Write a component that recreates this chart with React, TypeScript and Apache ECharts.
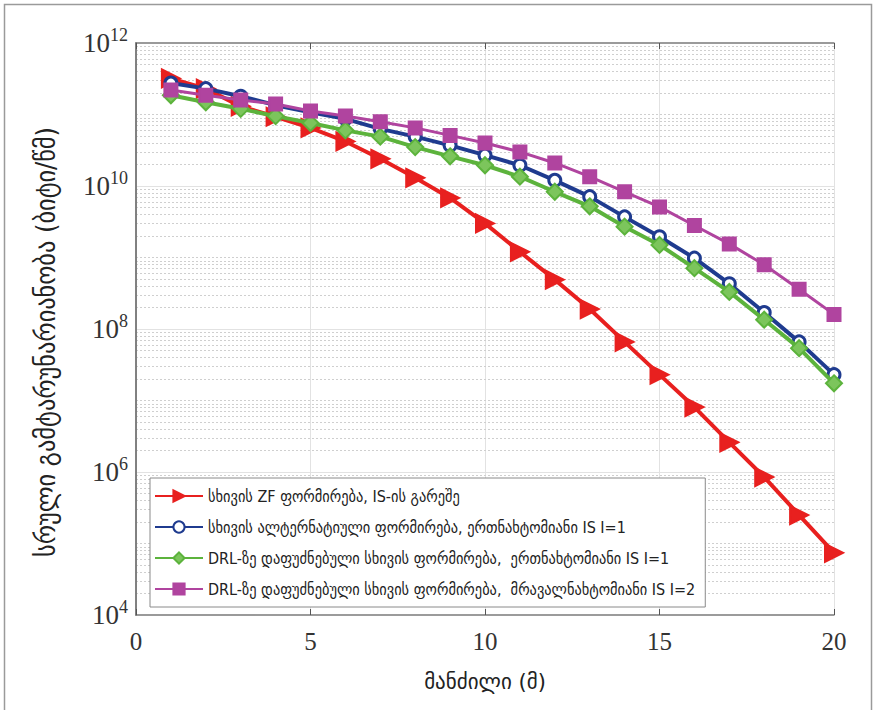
import React, { useEffect, useRef } from "react";
import * as echarts from "echarts";

const distances = [1, 2, 3, 4, 5, 6, 7, 8, 9, 10, 11, 12, 13, 14, 15, 16, 17, 18, 19, 20];

const zfNoIS = [3.2e11, 2.3e11, 1.3e11, 9.3e10, 6.5e10, 4.2e10, 2.4e10, 1.3e10, 6.8e9, 3.0e9, 1.2e9, 4.9e8, 1.9e8, 6.6e7, 2.3e7, 8.1e6, 2.6e6, 8.5e5, 2.5e5, 7.4e4];
const altSingleHop = [2.75e11, 2.3e11, 1.8e11, 1.35e11, 1.07e11, 8.7e10, 6.3e10, 4.9e10, 3.7e10, 2.7e10, 1.95e10, 1.2e10, 7.1e9, 3.7e9, 1.95e9, 9.8e8, 4.3e8, 1.7e8, 6.6e7, 2.3e7];
const drlSingleHop = [1.86e11, 1.48e11, 1.2e11, 9.5e10, 7.6e10, 6.0e10, 4.9e10, 3.5e10, 2.6e10, 1.95e10, 1.35e10, 8.3e9, 5.2e9, 2.7e9, 1.5e9, 7.1e8, 3.3e8, 1.35e8, 5.4e7, 1.74e7];
const drlMultiHop = [2.2e11, 1.86e11, 1.6e11, 1.4e11, 1.12e11, 9.5e10, 7.9e10, 6.5e10, 5.1e10, 4.0e10, 3.0e10, 2.1e10, 1.35e10, 8.3e9, 5.1e9, 2.8e9, 1.55e9, 7.9e8, 3.6e8, 1.6e8];

const seriesNames = [
  "სხივის ZF ფორმირება, IS-ის გარეშე",
  "სხივის ალტერნატიული ფორმირება, ერთნახტომიანი IS I=1",
  "DRL-ზე დაფუძნებული სხივის ფორმირება,  ერთნახტომიანი IS I=1",
  "DRL-ზე დაფუძნებული სხივის ფორმირება,  მრავალნახტომიანი IS I=2",
];

const xAxisName = "მანძილი (მ)";
const yAxisName = "სრული გამტარუნარიანობა (ბიტი/წმ)";

const yMin = 1e4;
const yMax = 1e12;
const yLabelExponents = [4, 6, 8, 10, 12];

// minor grid lines of the log axis: m * 10^k, plus the unlabelled decades
const minorGrid: number[] = [];
for (let k = 4; k < 12; k++) {
  for (let m = 2; m <= 9; m++) minorGrid.push(m * Math.pow(10, k));
}
for (const k of [5, 7, 9, 11]) minorGrid.push(Math.pow(10, k));
const majorGrid = [6, 8, 10].map((k) => Math.pow(10, k));

const serifFont = "'Liberation Serif', 'DejaVu Serif', serif";
const sansFont = "'DejaVu Sans Condensed', 'DejaVu Sans', 'Noto Sans', sans-serif";
const nameFont = "'DejaVu Sans', 'Noto Sans', sans-serif";

export default function App() {
  const ref = useRef<HTMLDivElement>(null);
  useEffect(() => {
    if (!ref.current) return;
    const chart = echarts.init(ref.current, null, { renderer: "svg" });
    const mk = (arr: number[]) => distances.map((d, i) => [d, arr[i]]);
    const lineSeries = (name: string, arr: number[], color: string, symbol: string, size: number, extra: any) => ({
      name,
      type: "line",
      data: mk(arr),
      symbol,
      symbolSize: size,
      lineStyle: { color, width: 4 },
      itemStyle: { color, borderColor: color, borderWidth: 2 },
      ...extra,
    });
    const yTickFormatter = (v: number) => {
      const e = Math.round(Math.log10(v));
      return yLabelExponents.indexOf(e) >= 0 ? `{b|10}{s|${e}}` : "";
    };
    chart.setOption({
      animation: false,
      backgroundColor: "#ffffff",
      graphic: [
        {
          type: "rect",
          shape: { x: 4.5, y: 4.5, width: 867, height: 730 },
          style: { fill: "none", stroke: "#9a9a9a", lineWidth: 1.5 },
          silent: true,
          z: -10,
        },
        {
          type: "text",
          x: 45,
          y: 342,
          rotation: Math.PI / 2,
          silent: true,
          style: {
            text: yAxisName,
            fontFamily: sansFont,
            fontSize: 27,
            fill: "#222",
            align: "center",
            verticalAlign: "middle",
          },
        },
      ],
      grid: { left: 136, right: 44, top: 43, bottom: 95, containLabel: false },
      legend: {
        data: seriesNames,
        orient: "vertical",
        left: 150,
        top: 478,
        itemWidth: 48,
        itemHeight: 14,
        itemGap: 15,
        padding: [10, 10, 10, 4],
        backgroundColor: "#ffffff",
        borderColor: "#8a8a8a",
        borderWidth: 1,
        textStyle: { fontFamily: sansFont, fontSize: 16, color: "#222" },
        z: 10,
      },
      xAxis: [
        {
          type: "value",
          min: 0,
          max: 20,
          interval: 5,
          name: xAxisName,
          nameLocation: "middle",
          nameGap: 56,
          nameTextStyle: { fontFamily: nameFont, fontSize: 21, color: "#222" },
          axisLine: { show: true, lineStyle: { color: "#7a7a7a", width: 1.5 } },
          axisTick: { show: true, inside: true, length: 6, lineStyle: { color: "#555" } },
          axisLabel: { fontFamily: serifFont, fontSize: 25, color: "#333", margin: 14 },
          splitLine: { show: true, lineStyle: { color: "#e2e2e2", width: 1 } },
        },
        {
          type: "value",
          position: "top",
          min: 0,
          max: 20,
          interval: 5,
          axisLine: { show: true, lineStyle: { color: "#7a7a7a", width: 1.5 } },
          axisTick: { show: true, inside: true, length: 6, lineStyle: { color: "#555" } },
          axisLabel: { show: false },
          splitLine: { show: false },
        },
      ],
      yAxis: [
        {
          type: "log",
          logBase: 10,
          min: yMin,
          max: yMax,
          axisLine: { show: true, lineStyle: { color: "#7a7a7a", width: 1.5 } },
          axisTick: { show: false },
          axisLabel: {
            margin: 8,
            formatter: yTickFormatter,
            rich: {
              b: { fontFamily: serifFont, fontSize: 27, color: "#333" },
              s: { fontFamily: serifFont, fontSize: 18, color: "#333", padding: [0, 0, 17, 0] },
            },
          },
          splitLine: { show: false },
        },
        {
          type: "log",
          logBase: 10,
          position: "right",
          min: yMin,
          max: yMax,
          axisLine: { show: true, lineStyle: { color: "#7a7a7a", width: 1.5 } },
          axisTick: { show: false },
          axisLabel: { show: false },
          splitLine: { show: false },
        },
      ],
      series: [
        {
          name: "minor-grid",
          type: "line",
          data: [],
          silent: true,
          z: 0,
          markLine: {
            silent: true,
            z: 0,
            symbol: ["none", "none"],
            label: { show: false },
            lineStyle: { color: "#cfcfcf", width: 1, type: [2, 2] },
            data: minorGrid.map((v) => ({ yAxis: v })),
          },
        },
        {
          name: "major-grid",
          type: "line",
          data: [],
          silent: true,
          z: 0,
          markLine: {
            silent: true,
            z: 0,
            symbol: ["none", "none"],
            label: { show: false },
            lineStyle: { color: "#e2e2e2", width: 1, type: "solid" },
            data: majorGrid.map((v) => ({ yAxis: v })),
          },
        },
        lineSeries(seriesNames[0], zfNoIS, "#e8201f", "triangle", 18, { symbolRotate: -90, z: 2 }),
        lineSeries(seriesNames[1], altSingleHop, "#1f3b8f", "circle", 12, {
          itemStyle: { color: "#ffffff", borderColor: "#1f3b8f", borderWidth: 3 },
          z: 3,
        }),
        lineSeries(seriesNames[2], drlSingleHop, "#5cb33c", "diamond", 16, {
          itemStyle: { color: "#7cc55c", borderColor: "#5cb33c", borderWidth: 2 },
          z: 4,
        }),
        lineSeries(seriesNames[3], drlMultiHop, "#b0449f", "rect", 13, {
          lineStyle: { color: "#b0449f", width: 3 },
          z: 5,
        }),
      ],
    });
    return () => chart.dispose();
  }, []);
  return (
    <div
      ref={ref}
      style={{ position: "absolute", left: 0, top: 0, width: 878, height: 710, background: "#fff" }}
    />
  );
}
